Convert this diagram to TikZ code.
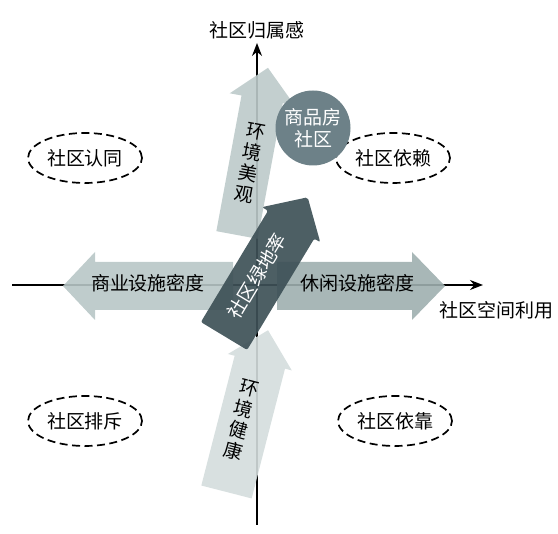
\documentclass[tikz,border=0pt]{standalone}
\usepackage{fontspec}
\newfontfamily\cjk{Noto Sans CJK SC}
\usetikzlibrary{arrows.meta,positioning,shapes.geometric}

\definecolor{commercefill}{HTML}{B8C6C6}
\definecolor{leisurefill}{HTML}{9EAFAF}
\definecolor{beautyfill}{HTML}{BDCACA}
\definecolor{healthfill}{HTML}{D4DDDD}
\definecolor{greenfill}{HTML}{3E5157}
\definecolor{estatefill}{HTML}{6D8188}

% fat arrow: length, half shaft, half head, head length, fill options
\tikzset{
  pics/fatarrow/.style n args={5}{code={%
    \fill[#5] (0,-#2) -- ({#1-#4},-#2) -- ({#1-#4},-#3) -- (#1,0)
      -- ({#1-#4},#3) -- ({#1-#4},#2) -- (0,#2) -- cycle;
  }}
}

\begin{document}
\begin{tikzpicture}[x=1pt,y=1pt,>={Stealth[length=13pt,width=10pt]},
  every node/.style={font=\cjk\fontsize{19}{23}\selectfont},
  zone/.style={draw,ellipse,dash pattern=on 8pt off 4.5pt,line width=1.7pt,
    minimum width=114pt,minimum height=50pt,inner sep=0pt},
  axis/.style={->,line width=1.3pt},
  stack/.style={align=center,inner sep=0pt,font=\cjk\fontsize{19}{21.5}\selectfont},
  bubble/.style={circle,fill=estatefill,text=white,align=center,
    minimum size=75pt,inner sep=0pt,font=\cjk\fontsize{19}{22}\selectfont}]
  \useasboundingbox (0,0) rectangle (558,534);
  % axes
  \coordinate (xstart) at (12,249);
  \coordinate (xend) at (483,249);
  \coordinate (ystart) at (257,9);
  \coordinate (yend) at (257,491);
  \draw[axis] (xstart) -- (xend);
  \draw[axis] (ystart) -- (yend);
  \node (ylabel) at (257,504) {社区归属感};
  \node (xlabel) at (496,224) {社区空间利用};

  % quadrants
  \node[zone] (identity) at (85,376) {社区认同};
  \node[zone] (reliance) at (393,376) {社区依赖};
  \node[zone] (rejection) at (85,113) {社区排斥};
  \node[zone] (dependence) at (395,113) {社区依靠};

  % big arrows
  \pic[rotate=180] at (233,248) {fatarrow={170}{24}{34}{32}{fill=commercefill,fill opacity=.9}};
  \pic at (277,248) {fatarrow={168}{24}{34}{33}{fill=leisurefill,fill opacity=.9}};
  \pic[rotate=79.5] at (237,299) {fatarrow={170}{21}{33}{32}{fill=beautyfill,fill opacity=.9}};
  \pic[rotate=75.6] at (226.5,42) {fatarrow={167}{26}{33}{33}{fill=healthfill,fill opacity=.9}};
  \pic[rotate=58.9] at (224,198) {fatarrow={162}{27}{34}{32}{fill=greenfill,fill opacity=.92,rounded corners=2pt}};
  \node[bubble] (estate) at (313,406) {商品房\\社区};

  % arrow labels
  \node[inner sep=1pt] (commerce) at (148,251) {商业设施密度};
  \node[inner sep=1pt] (leisure) at (357,251) {休闲设施密度};
  \node[stack,rotate=-10.5] (beauty) at (250,371) {环\\境\\美\\观};
  \node[stack,rotate=-14.4] (health) at (241,114) {环\\境\\健\\康};
  \node[text=white,rotate=59,inner sep=0pt] (green) at (257,258) {社区绿地率};
\end{tikzpicture}
\end{document}
